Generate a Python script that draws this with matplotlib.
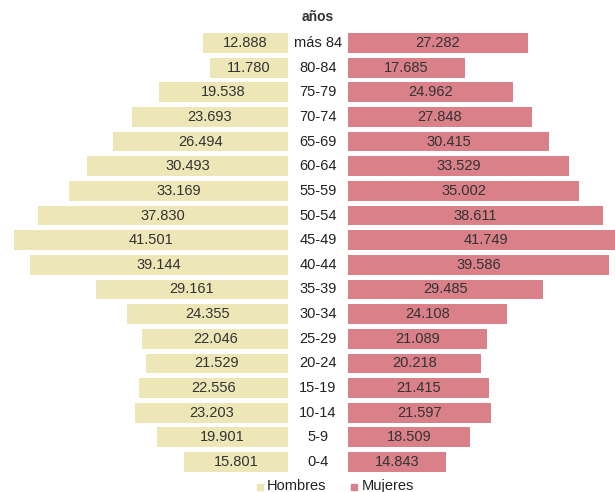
import matplotlib.pyplot as plt
from matplotlib.patches import Rectangle

plt.rcParams['font.family'] = ['Liberation Sans', 'DejaVu Sans']

# grupos de edad (de abajo hacia arriba)
edades = ['0-4', '5-9', '10-14', '15-19', '20-24', '25-29', '30-34', '35-39',
          '40-44', '45-49', '50-54', '55-59', '60-64', '65-69', '70-74',
          '75-79', '80-84', 'más 84']
hombres = [15801, 19901, 23203, 22556, 21529, 22046, 24355, 29161,
           39144, 41501, 37830, 33169, 30493, 26494, 23693, 19538, 11780, 12888]
mujeres = [14843, 18509, 21597, 21415, 20218, 21089, 24108, 29485,
           39586, 41749, 38611, 35002, 33529, 30415, 27848, 24962, 17685, 27282]

def fmt(v):
    return f'{v:,}'.replace(',', '.')

col_h = '#EDE7B7'
col_m = '#D98089'
gap = 4545

fig = plt.figure(figsize=(6.15, 4.92), dpi=100)
ax = fig.add_axes([0, 0.036, 1, 0.9016])

y = list(range(len(edades)))
ax.barh(y, [-v for v in hombres], left=-gap, height=0.8, color=col_h)
ax.barh(y, mujeres, left=gap, height=0.8, color=col_m)

for i in y:
    ax.text(-gap - hombres[i] / 2, i, fmt(hombres[i]), ha='center', va='center',
            fontsize=10.5, color='#333333')
    ax.text(gap + mujeres[i] / 2, i, fmt(mujeres[i]), ha='center', va='center',
            fontsize=10.5, color='#333333')
    ax.text(0, i, edades[i], ha='center', va='center', fontsize=10.5, color='#222222')

ax.set_xlim(-48180, 45000)
ax.set_ylim(-0.5, 17.5)
ax.axis('off')

fig.text(318 / 615, 1 - 17 / 492, 'años', ha='center', va='center',
         fontsize=10, fontweight='bold', color='#333333')

# leyenda
fig.patches.append(Rectangle((257 / 615, 1 - 490 / 492), 6 / 615, 6 / 492,
                             transform=fig.transFigure, color=col_h))
fig.text(267 / 615, 1 - 486 / 492, 'Hombres', ha='left', va='center',
         fontsize=10.5, color='#222222')
fig.patches.append(Rectangle((351 / 615, 1 - 490 / 492), 6 / 615, 6 / 492,
                             transform=fig.transFigure, color=col_m))
fig.text(362 / 615, 1 - 486 / 492, 'Mujeres', ha='left', va='center',
         fontsize=10.5, color='#222222')

fig.savefig('out.png', dpi=100)
